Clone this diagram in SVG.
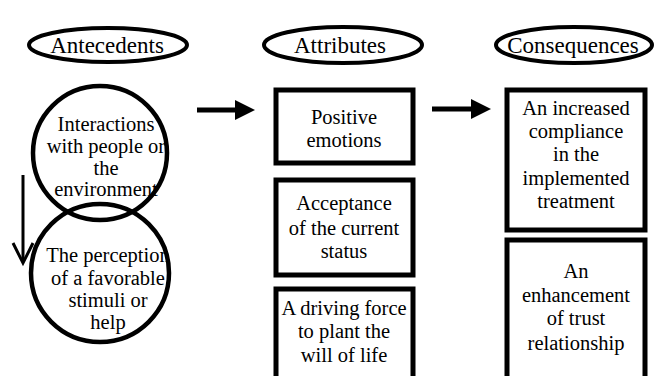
<svg xmlns="http://www.w3.org/2000/svg" width="662" height="376" viewBox="0 0 662 376">
<style>
.shape{fill:none;stroke:#000;}
.ell{stroke-width:4;}
.circ{stroke-width:4.5;}
.box{stroke-width:5;}
.h{font-size:23px;}
.b{font-size:20.5px;}
</style>
<defs>
<marker id="tri" markerWidth="4" markerHeight="4" refX="0.2" refY="2" orient="auto" markerUnits="strokeWidth">
<path d="M0,0 L4,2 L0,4 Z" fill="#000"/>
</marker>
</defs>
<rect width="662" height="376" fill="#fff"/>
<g font-family="Liberation Serif, Times New Roman, DejaVu Serif, serif" text-anchor="middle" fill="#000">
<g id="antecedents">
<ellipse class="shape ell" cx="108" cy="45" rx="79" ry="17"/>
<text class="h" x="107" y="53">Antecedents</text>
</g>
<g id="attributes">
<ellipse class="shape ell" cx="343" cy="45" rx="79" ry="18"/>
<text class="h" x="340" y="53">Attributes</text>
</g>
<g id="consequences">
<ellipse class="shape ell" cx="574" cy="45" rx="78" ry="18"/>
<text class="h" x="573" y="53">Consequences</text>
</g>
<g id="interactions">
<circle class="shape circ" cx="100" cy="153" r="67"/>
<text class="b" x="106" y="131">Interactions</text>
<text class="b" x="106" y="153">with people or</text>
<text class="b" x="106" y="175">the</text>
<text class="b" x="106" y="196">environment</text>
</g>
<g id="perception">
<circle class="shape circ" cx="100" cy="273" r="69"/>
<text class="b" x="108" y="262">The perception</text>
<text class="b" x="108" y="285">of a favorable</text>
<text class="b" x="108" y="307">stimuli or</text>
<text class="b" x="108" y="329">help</text>
</g>
<g id="positive">
<rect class="shape box" x="276" y="90" width="137" height="73"/>
<text class="b" x="344" y="124">Positive</text>
<text class="b" x="344" y="147">emotions</text>
</g>
<g id="acceptance">
<rect class="shape box" x="276" y="180" width="137" height="95"/>
<text class="b" x="344" y="210">Acceptance</text>
<text class="b" x="344" y="235">of the current</text>
<text class="b" x="344" y="258">status</text>
</g>
<g id="driving">
<rect class="shape box" x="276" y="289" width="137" height="92"/>
<text class="b" x="344" y="315">A driving force</text>
<text class="b" x="344" y="338">to plant the</text>
<text class="b" x="344" y="362">will of life</text>
</g>
<g id="compliance">
<rect class="shape box" x="507" y="90" width="138" height="140"/>
<text class="b" x="576" y="115">An increased</text>
<text class="b" x="576" y="138">compliance</text>
<text class="b" x="576" y="161">in the</text>
<text class="b" x="576" y="185">implemented</text>
<text class="b" x="576" y="208">treatment</text>
</g>
<g id="trust">
<rect class="shape box" x="507" y="240" width="138" height="141"/>
<text class="b" x="576" y="278">An</text>
<text class="b" x="576" y="302">enhancement</text>
<text class="b" x="576" y="325">of trust</text>
<text class="b" x="576" y="350">relationship</text>
</g>
</g>
<g id="connectors">
<line x1="197" y1="110" x2="236" y2="110" stroke="#000" stroke-width="5" marker-end="url(#tri)"/>
<line x1="432" y1="109" x2="472" y2="109" stroke="#000" stroke-width="5" marker-end="url(#tri)"/>
<line x1="23" y1="175" x2="23" y2="262" stroke="#000" stroke-width="3"/>
<polyline points="13,243 23,263 33,243" fill="none" stroke="#000" stroke-width="3"/>
</g>
</svg>
